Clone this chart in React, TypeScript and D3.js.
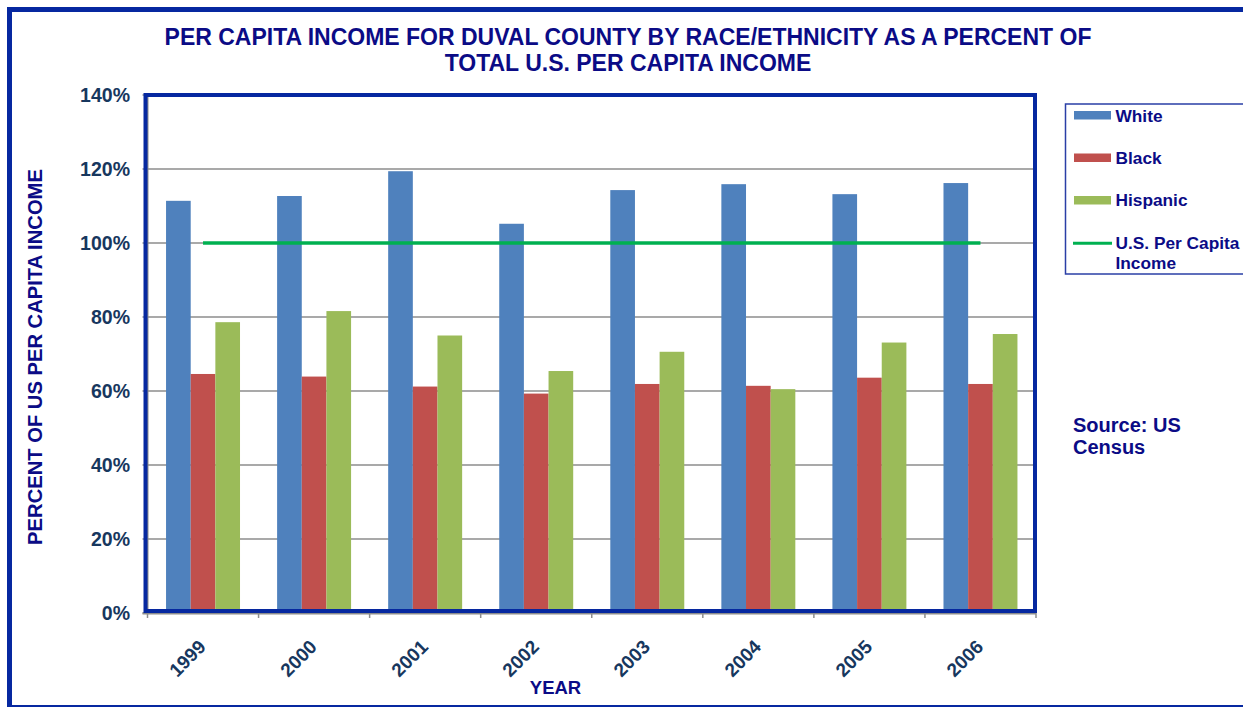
import React from "react";
import * as d3 from "d3";

const years = ["1999", "2000", "2001", "2002", "2003", "2004", "2005", "2006"];
const white = [111.4, 112.7, 119.4, 105.2, 114.3, 115.9, 113.2, 116.2];
const black = [64.6, 63.9, 61.2, 59.3, 61.9, 61.4, 63.6, 61.9];
const hispanic = [78.6, 81.6, 75.0, 65.4, 70.6, 60.5, 73.1, 75.4];
const usLine = [100, 100, 100, 100, 100, 100, 100, 100];
const yTicks = [0, 20, 40, 60, 80, 100, 120, 140];
const seriesNames = ["White", "Black", "Hispanic"];
const seriesColors = ["#4F81BD", "#C0504D", "#9BBB59"];

const W = 1243;
const H = 707;
const NAVY = "#0B0B86";
const TICKC = "#17375E";
const FRAME = "#0628A0";
const FONT = "Arial, 'Liberation Sans', sans-serif";

export default function App() {
  const x0 = 147.5, x1 = 1036, yTop = 95, yBot = 613;
  const x = d3.scaleBand<string>().domain(years).range([x0, x1]).paddingInner(0).paddingOuter(0);
  const y = d3.scaleLinear().domain([0, 140]).range([yBot, yTop]);
  const bw = x.bandwidth();
  const groupPad = bw * 0.167;
  const inner = d3.scaleBand<string>().domain(seriesNames).range([groupPad, bw - groupPad]).padding(0);
  const allSeries = [white, black, hispanic];
  const line = d3.line<number>()
    .x((_, i) => (x(years[i]) as number) + bw / 2)
    .y((d) => y(d));

  return (
    <svg width={W} height={H} style={{ position: "absolute", left: 0, top: 0 }} fontFamily={FONT}>
      <rect x={0} y={0} width={W} height={H} fill="#fff" />
      {/* outer border */}
      <rect x={9.5} y={9.5} width={W + 20} height={698} fill="none" stroke={FRAME} strokeWidth={5} />
      {/* title */}
      <text x={628} y={45} textAnchor="middle" fontSize={23} fontWeight="bold" fill={NAVY}>
        PER CAPITA INCOME FOR DUVAL COUNTY BY RACE/ETHNICITY AS A PERCENT OF
      </text>
      <text x={628} y={71} textAnchor="middle" fontSize={23} fontWeight="bold" fill={NAVY}>
        TOTAL U.S. PER CAPITA INCOME
      </text>
      {/* gridlines */}
      {yTicks.slice(1).map((t) => (
        <line key={t} x1={x0} x2={x1} y1={y(t)} y2={y(t)} stroke="#8C8C8C" strokeWidth={1.5} />
      ))}
      {/* y ticks */}
      {yTicks.map((t) => (
        <g key={"yt" + t}>
          <line x1={x0 - 5} x2={x0} y1={y(t)} y2={y(t)} stroke="#8C8C8C" strokeWidth={1.5} />
          <text x={130} y={y(t) + 7} textAnchor="end" fontSize={19.5} fontWeight="bold" fill={TICKC}>
            {t}%
          </text>
        </g>
      ))}
      {/* bars */}
      {allSeries.map((s, si) =>
        s.map((v, i) => (
          <rect
            key={si + "-" + i}
            x={(x(years[i]) as number) + (inner(seriesNames[si]) as number)}
            y={y(v)}
            width={inner.bandwidth()}
            height={yBot - y(v)}
            fill={seriesColors[si]}
          />
        ))
      )}
      {/* US line */}
      <path d={line(usLine) || ""} fill="none" stroke="#00B050" strokeWidth={3.5} />
      {/* axes */}
      <line x1={x0} x2={x0} y1={yTop} y2={yBot} stroke="#8C8C8C" strokeWidth={2} />
      <line x1={x0 - 5} x2={x1} y1={yBot + 0.5} y2={yBot + 0.5} stroke="#8C8C8C" strokeWidth={2} />
      {years.concat(["end"]).map((_, i) => (
        <line key={"xt" + i} x1={x0 + i * bw} x2={x0 + i * bw} y1={yBot} y2={yBot + 5} stroke="#8C8C8C" strokeWidth={1.5} />
      ))}
      {/* plot frame */}
      <rect x={x0 - 2} y={yTop} width={x1 - x0 + 1} height={yBot - yTop - 2} fill="none" stroke={FRAME} strokeWidth={4} />
      {/* x labels */}
      {years.map((yr) => {
        const cx = (x(yr) as number) + bw / 2 + 4;
        return (
          <text key={yr} transform={`translate(${cx},648) rotate(-45)`} textAnchor="end" fontSize={19} fontWeight="bold" fill={TICKC}>
            {yr}
          </text>
        );
      })}
      <text x={555.5} y={694} textAnchor="middle" fontSize={18.5} fontWeight="bold" fill={NAVY}>
        YEAR
      </text>
      <text transform="translate(42,357) rotate(-90)" textAnchor="middle" fontSize={20.2} fontWeight="bold" fill={NAVY}>
        PERCENT OF US PER CAPITA INCOME
      </text>
      {/* legend */}
      <rect x={1065.5} y={104} width={200} height={170} fill="#fff" stroke="#2A3FA6" strokeWidth={1.5} />
      {seriesNames.map((n, i) => (
        <g key={n}>
          <rect x={1074} y={111 + i * 42.5} width={37} height={8.5} fill={seriesColors[i]} />
          <text x={1115.5} y={121.5 + i * 42.3} fontSize={17.3} fontWeight="bold" fill={NAVY}>
            {n}
          </text>
        </g>
      ))}
      <line x1={1073} x2={1112} y1={243.3} y2={243.3} stroke="#00B050" strokeWidth={3} />
      <text x={1115.5} y={249.3} fontSize={17.3} fontWeight="bold" fill={NAVY}>U.S. Per Capita</text>
      <text x={1115.5} y={269.3} fontSize={17.3} fontWeight="bold" fill={NAVY}>Income</text>
      {/* source */}
      <text x={1073} y={431.7} fontSize={20} fontWeight="bold" fill={NAVY}>Source: US</text>
      <text x={1073} y={453.5} fontSize={20} fontWeight="bold" fill={NAVY}>Census</text>
    </svg>
  );
}
